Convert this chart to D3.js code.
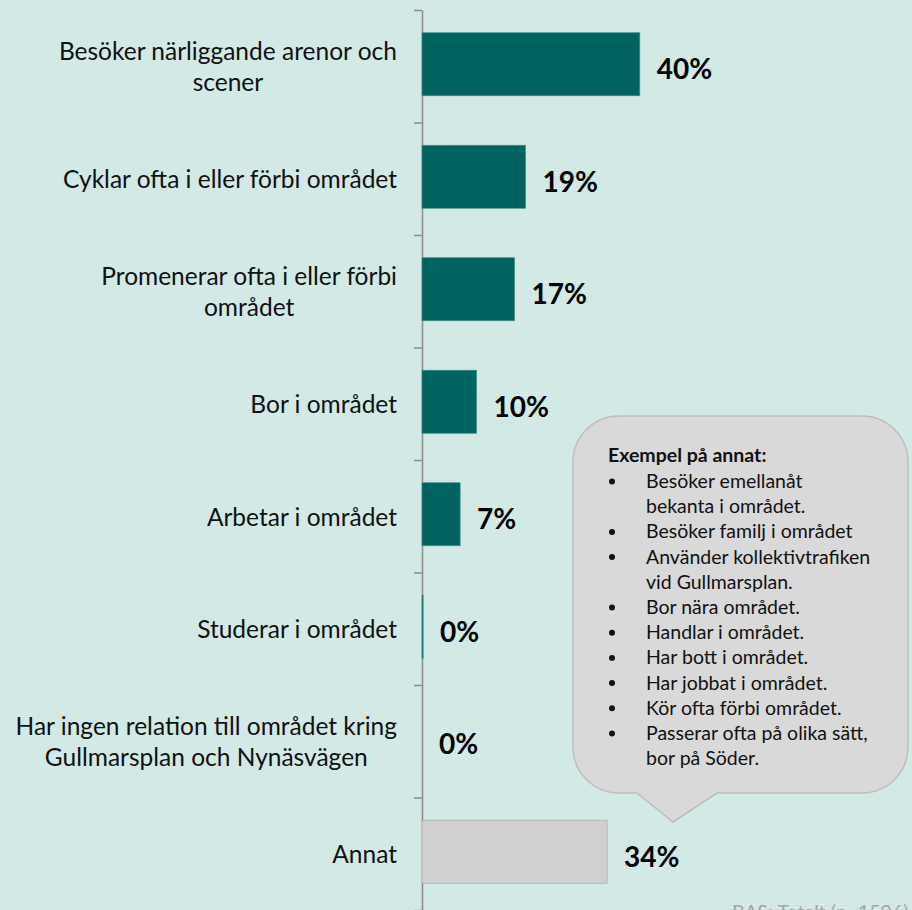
<!DOCTYPE html>
<html>
<head>
<meta charset="utf-8">
<script src="https://cdn.jsdelivr.net/npm/d3@7"></script>
<style>
  html, body { margin: 0; padding: 0; background: #d2e9e6; }
  svg { display: block; font-family: 'Lato', 'Open Sans', sans-serif; }
</style>
</head>
<body>
<script>
// Categories (top to bottom), each split into its display lines.
var categories = [
    ['Besöker närliggande arenor och', 'scener'],
    ['Cyklar ofta i eller förbi området'],
    ['Promenerar ofta i eller förbi', 'området'],
    ['Bor i området'],
    ['Arbetar i området'],
    ['Studerar i området'],
    ['Har ingen relation till området kring', 'Gullmarsplan och Nynäsvägen'],
    ['Annat']
];
// Share of respondents, per cent.
var values = [40, 19, 17, 10, 7, 0.2, 0, 34];
var valueLabels = ['40%', '19%', '17%', '10%', '7%', '0%', '0%', '34%'];
// Which bar is the "other" bar (grey).
var otherIndex = 7;

// Callout content.
var calloutTitle = 'Exempel på annat:';
var calloutItems = [
    ['Besöker emellanåt', 'bekanta i området.'],
    ['Besöker familj i området'],
    ['Använder kollektivtrafiken', 'vid Gullmarsplan.'],
    ['Bor nära området.'],
    ['Handlar i området.'],
    ['Har bott i området.'],
    ['Har jobbat i området.'],
    ['Kör ofta förbi området.'],
    ['Passerar ofta på olika sätt,', 'bor på Söder.']
];
var baseNote = 'BAS: Totalt (n=1596)';

var W = 912, H = 910;
var axisX = 422;

var svg = d3.select('body').append('svg')
    .attr('width', W).attr('height', H);

svg.append('rect').attr('width', W).attr('height', H).attr('fill', '#d2e9e6');

// Scales.
var idx = d3.range(categories.length);
var x = d3.scaleLinear().domain([0, 90]).range([axisX, 912]);
var y = d3.scaleBand().domain(idx).range([8, 908])
    .paddingInner(0.44).paddingOuter(0.22);
var yEdge = d3.scaleLinear().domain([0, categories.length]).range([10, 910]);

// Axis with ticks between the categories.
var axis = svg.append('g')
    .attr('transform', 'translate(' + axisX + ',0)')
    .call(d3.axisLeft(yEdge).tickValues(d3.range(categories.length + 1))
        .tickFormat('').tickSize(8).tickSizeOuter(0));
axis.select('.domain').attr('stroke', '#8c8c8c').attr('stroke-width', 1.5);
axis.selectAll('.tick line').attr('stroke', '#8c8c8c').attr('stroke-width', 1.5);

// Bars.
svg.selectAll('.bar').data(idx)
    .enter().append('rect')
    .attr('class', 'bar')
    .attr('x', x(0))
    .attr('y', function(i) { return y(i); })
    .attr('width', function(i) { return x(values[i]) - x(0); })
    .attr('height', y.bandwidth())
    .attr('fill', function(i) { return i === otherIndex ? '#d0d0d0' : '#00635f'; })
    .attr('stroke', function(i) { return i === otherIndex ? '#a8a8a8' : '#3f8a86'; })
    .attr('stroke-width', function(i) { return values[i] > 0 ? 0.7 : 0; });

// Value labels (sit a little below the bar centre, as in the source).
svg.selectAll('.val').data(idx)
    .enter().append('text')
    .attr('class', 'val')
    .attr('x', function(i) { return x(values[i]) + 17; })
    .attr('y', function(i) { return y(i) + y.bandwidth() / 2 + 5; })
    .attr('dy', '0.36em')
    .style('font-weight', 'bold').style('font-size', '28px')
    .attr('fill', '#000')
    .text(function(i) { return valueLabels[i]; });

// Category labels: block right-aligned to the axis, lines centred.
var labelRight = 397, lineH = 31;
var catG = svg.selectAll('.cat').data(idx).enter().append('text')
    .attr('class', 'cat')
    .style('font-size', '24.5px')
    .attr('fill', '#111');
catG.each(function(i) {
    var t = d3.select(this);
    var lines = categories[i];
    var cy = y(i) + y.bandwidth() / 2 + 3;
    lines.forEach(function(l, k) {
        t.append('tspan')
            .attr('y', cy + (k - (lines.length - 1) / 2) * lineH)
            .attr('dy', '0.35em')
            .text(l);
    });
    var wmax = d3.max(t.selectAll('tspan').nodes(), function(n) { return n.getComputedTextLength(); });
    t.selectAll('tspan').attr('x', labelRight - wmax / 2);
    t.attr('text-anchor', 'middle');
});

// Callout bubble pointing at the "Annat" bar.
var bx0 = 573, by0 = 416, bx1 = 908, by1 = 793, r = 46;
var tipX = 673, tipY = 822, pL = 637, pR = 717;
var p = d3.path();
p.moveTo(bx0 + r, by0);
p.lineTo(bx1 - r, by0);
p.arcTo(bx1, by0, bx1, by0 + r, r);
p.lineTo(bx1, by1 - r);
p.arcTo(bx1, by1, bx1 - r, by1, r);
p.lineTo(pR, by1);
p.lineTo(tipX, tipY);
p.lineTo(pL, by1);
p.lineTo(bx0 + r, by1);
p.arcTo(bx0, by1, bx0, by1 - r, r);
p.lineTo(bx0, by0 + r);
p.arcTo(bx0, by0, bx0 + r, by0, r);
p.closePath();
svg.append('path').attr('d', p.toString())
    .attr('fill', '#d9d9d9').attr('stroke', '#bdbdbd').attr('stroke-width', 1.5);

svg.append('text')
    .attr('x', 608).attr('y', 462)
    .style('font-weight', 'bold').style('font-size', '19.5px')
    .attr('fill', '#111')
    .text(calloutTitle);

var ly = 488, lstep = 25.2;
calloutItems.forEach(function(item) {
    svg.append('circle').attr('cx', 612).attr('cy', ly - 6.5).attr('r', 3).attr('fill', '#111');
    item.forEach(function(l) {
        svg.append('text')
            .attr('x', 646).attr('y', ly)
            .style('font-size', '19.5px')
            .attr('fill', '#111')
            .text(l);
        ly += lstep;
    });
});

// Base note, partly cut at the bottom edge as in the source.
svg.append('text')
    .attr('x', 732).attr('y', 919)
    .style('font-size', '19.5px')
    .attr('fill', '#a6a6a6')
    .text(baseNote);
</script>
</body>
</html>
